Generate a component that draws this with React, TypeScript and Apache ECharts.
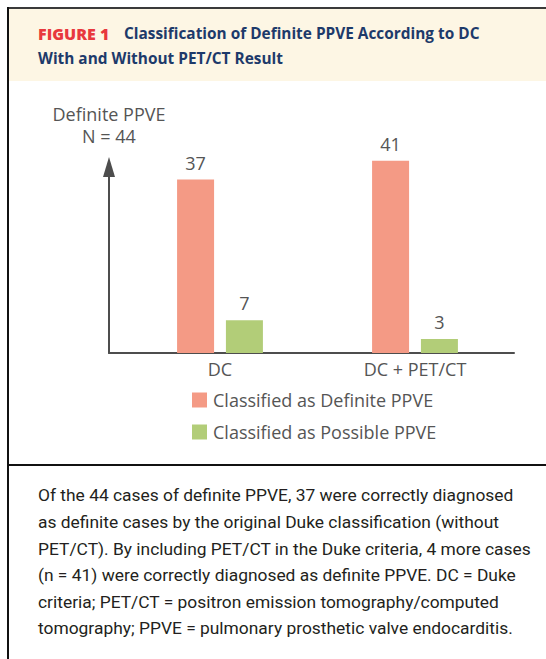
import React, { useEffect, useRef } from "react";
import * as echarts from "echarts";

const categories = ["DC", "DC + PET/CT"];
const definiteValues = [37, 41];
const possibleValues = [7, 3];
const seriesNames = ["Classified as Definite PPVE", "Classified as Possible PPVE"];
const yAxisName = ["Definite PPVE", "N = 44"];
const figureLabel = "FIGURE 1";
const titleLines = ["Classification of Definite PPVE According to DC", "With and Without PET/CT Result"];
const captionLines = [
  "Of the 44 cases of definite PPVE, 37 were correctly diagnosed",
  "as definite cases by the original Duke classification (without",
  "PET/CT). By including PET/CT in the Duke criteria, 4 more cases",
  "(n = 41) were correctly diagnosed as definite PPVE. DC = Duke",
  "criteria; PET/CT = positron emission tomography/computed",
  "tomography; PPVE = pulmonary prosthetic valve endocarditis.",
];

const W = 546;
const H = 659;
const SALMON = "#f49a85";
const GREEN = "#b2cd78";
const AXIS = "#4d4d4d";
const TXT = "#555555";
const FONT = "'Open Sans', 'Noto Sans', sans-serif";
const TFONT = "'Open Sans', sans-serif";
const NAVY = "#1d3a6a";

export default function App() {
  const ref = useRef<HTMLDivElement>(null);
  useEffect(() => {
    if (!ref.current) return;
    const chart = echarts.init(ref.current, null, { renderer: "svg", width: W, height: H });
    const option: any = {
      animation: false,
      backgroundColor: "#ffffff",
      grid: [
        { left: 122.5, right: 33.5, top: 157, bottom: 306 },
        { left: 109, right: 32, top: 167, bottom: 306 },
      ],
      legend: {
        orient: "vertical",
        left: 192,
        top: 391,
        padding: 0,
        itemWidth: 15,
        itemHeight: 15,
        itemGap: 14,
        icon: "rect",
        textStyle: { fontSize: 18, color: TXT, fontFamily: FONT, padding: [0, 0, 0, 1] },
        data: seriesNames,
      },
      xAxis: [
        {
          type: "category",
          gridIndex: 0,
          data: categories,
          axisLine: { show: false },
          axisTick: { show: false },
          axisLabel: { fontSize: 18, color: TXT, fontFamily: FONT, margin: 7 },
        },
        {
          type: "value",
          gridIndex: 1,
          min: 0,
          max: 1,
          axisLine: { show: true, lineStyle: { color: AXIS, width: 2 } },
          axisTick: { show: false },
          axisLabel: { show: false },
          splitLine: { show: false },
        },
      ],
      yAxis: [
        {
          type: "value",
          gridIndex: 0,
          min: 0,
          max: 41.8,
          show: false,
          splitLine: { show: false },
        },
        {
          type: "value",
          gridIndex: 1,
          min: 0,
          max: 1,
          name: yAxisName.join("\n"),
          nameLocation: "end",
          nameGap: 20,
          nameTextStyle: { fontSize: 18, color: TXT, fontFamily: FONT, lineHeight: 22, align: "center" },
          axisLine: {
            show: true,
            symbol: ["none", "triangle"],
            symbolSize: [12, 20],
            lineStyle: { color: AXIS, width: 2 },
          },
          axisTick: { show: false },
          axisLabel: { show: false },
          splitLine: { show: false },
        },
      ],
      series: [
        {
          name: seriesNames[0],
          type: "bar",
          xAxisIndex: 0,
          yAxisIndex: 0,
          data: definiteValues,
          barWidth: 37,
          barGap: "32%",
          itemStyle: { color: SALMON },
          label: { show: true, position: "top", distance: 8, fontSize: 18, color: TXT, fontFamily: FONT },
        },
        {
          name: seriesNames[1],
          type: "bar",
          xAxisIndex: 0,
          yAxisIndex: 0,
          data: possibleValues,
          barWidth: 37,
          barGap: "32%",
          itemStyle: { color: GREEN },
          label: { show: true, position: "top", distance: 8, fontSize: 18, color: TXT, fontFamily: FONT },
        },
      ],
      graphic: [
        { type: "rect", z: -10, shape: { x: 9, y: 9, width: W - 9, height: 72 }, style: { fill: "#fdf6e4" } },
        { type: "line", shape: { x1: 7, y1: 8, x2: W, y2: 8 }, style: { stroke: "#3a3a3a", lineWidth: 2 } },
        { type: "line", shape: { x1: 8, y1: 7, x2: 8, y2: H }, style: { stroke: "#111111", lineWidth: 2 } },
        { type: "line", shape: { x1: 8, y1: 465, x2: W, y2: 465 }, style: { stroke: "#111111", lineWidth: 2 } },
        {
          type: "text",
          x: 38,
          y: 34,
          style: {
            text: figureLabel,
            verticalAlign: "middle",
            fontSize: 16,
            fontWeight: 800,
            fill: "#e8383d",
            fontFamily: TFONT,
          },
        },
        {
          type: "text",
          x: 124,
          y: 33,
          style: {
            text: titleLines[0],
            verticalAlign: "middle",
            fontSize: 15.4,
            fontWeight: "bold",
            fill: NAVY,
            fontFamily: TFONT,
          },
        },
        {
          type: "text",
          x: 38,
          y: 58,
          style: {
            text: titleLines[1],
            verticalAlign: "middle",
            fontSize: 15.4,
            fontWeight: "bold",
            fill: NAVY,
            fontFamily: TFONT,
          },
        },
        {
          type: "text",
          x: 38,
          y: 482,
          style: {
            text: captionLines.join("\n"),
            fontSize: 17.4,
            lineHeight: 26.6,
            fill: "#231f20",
            fontFamily: "Roboto, sans-serif",
          },
        },
      ],
    };
    chart.setOption(option);
    return () => chart.dispose();
  }, []);
  return <div ref={ref} style={{ position: "absolute", left: 0, top: 0, width: W, height: H }} />;
}
